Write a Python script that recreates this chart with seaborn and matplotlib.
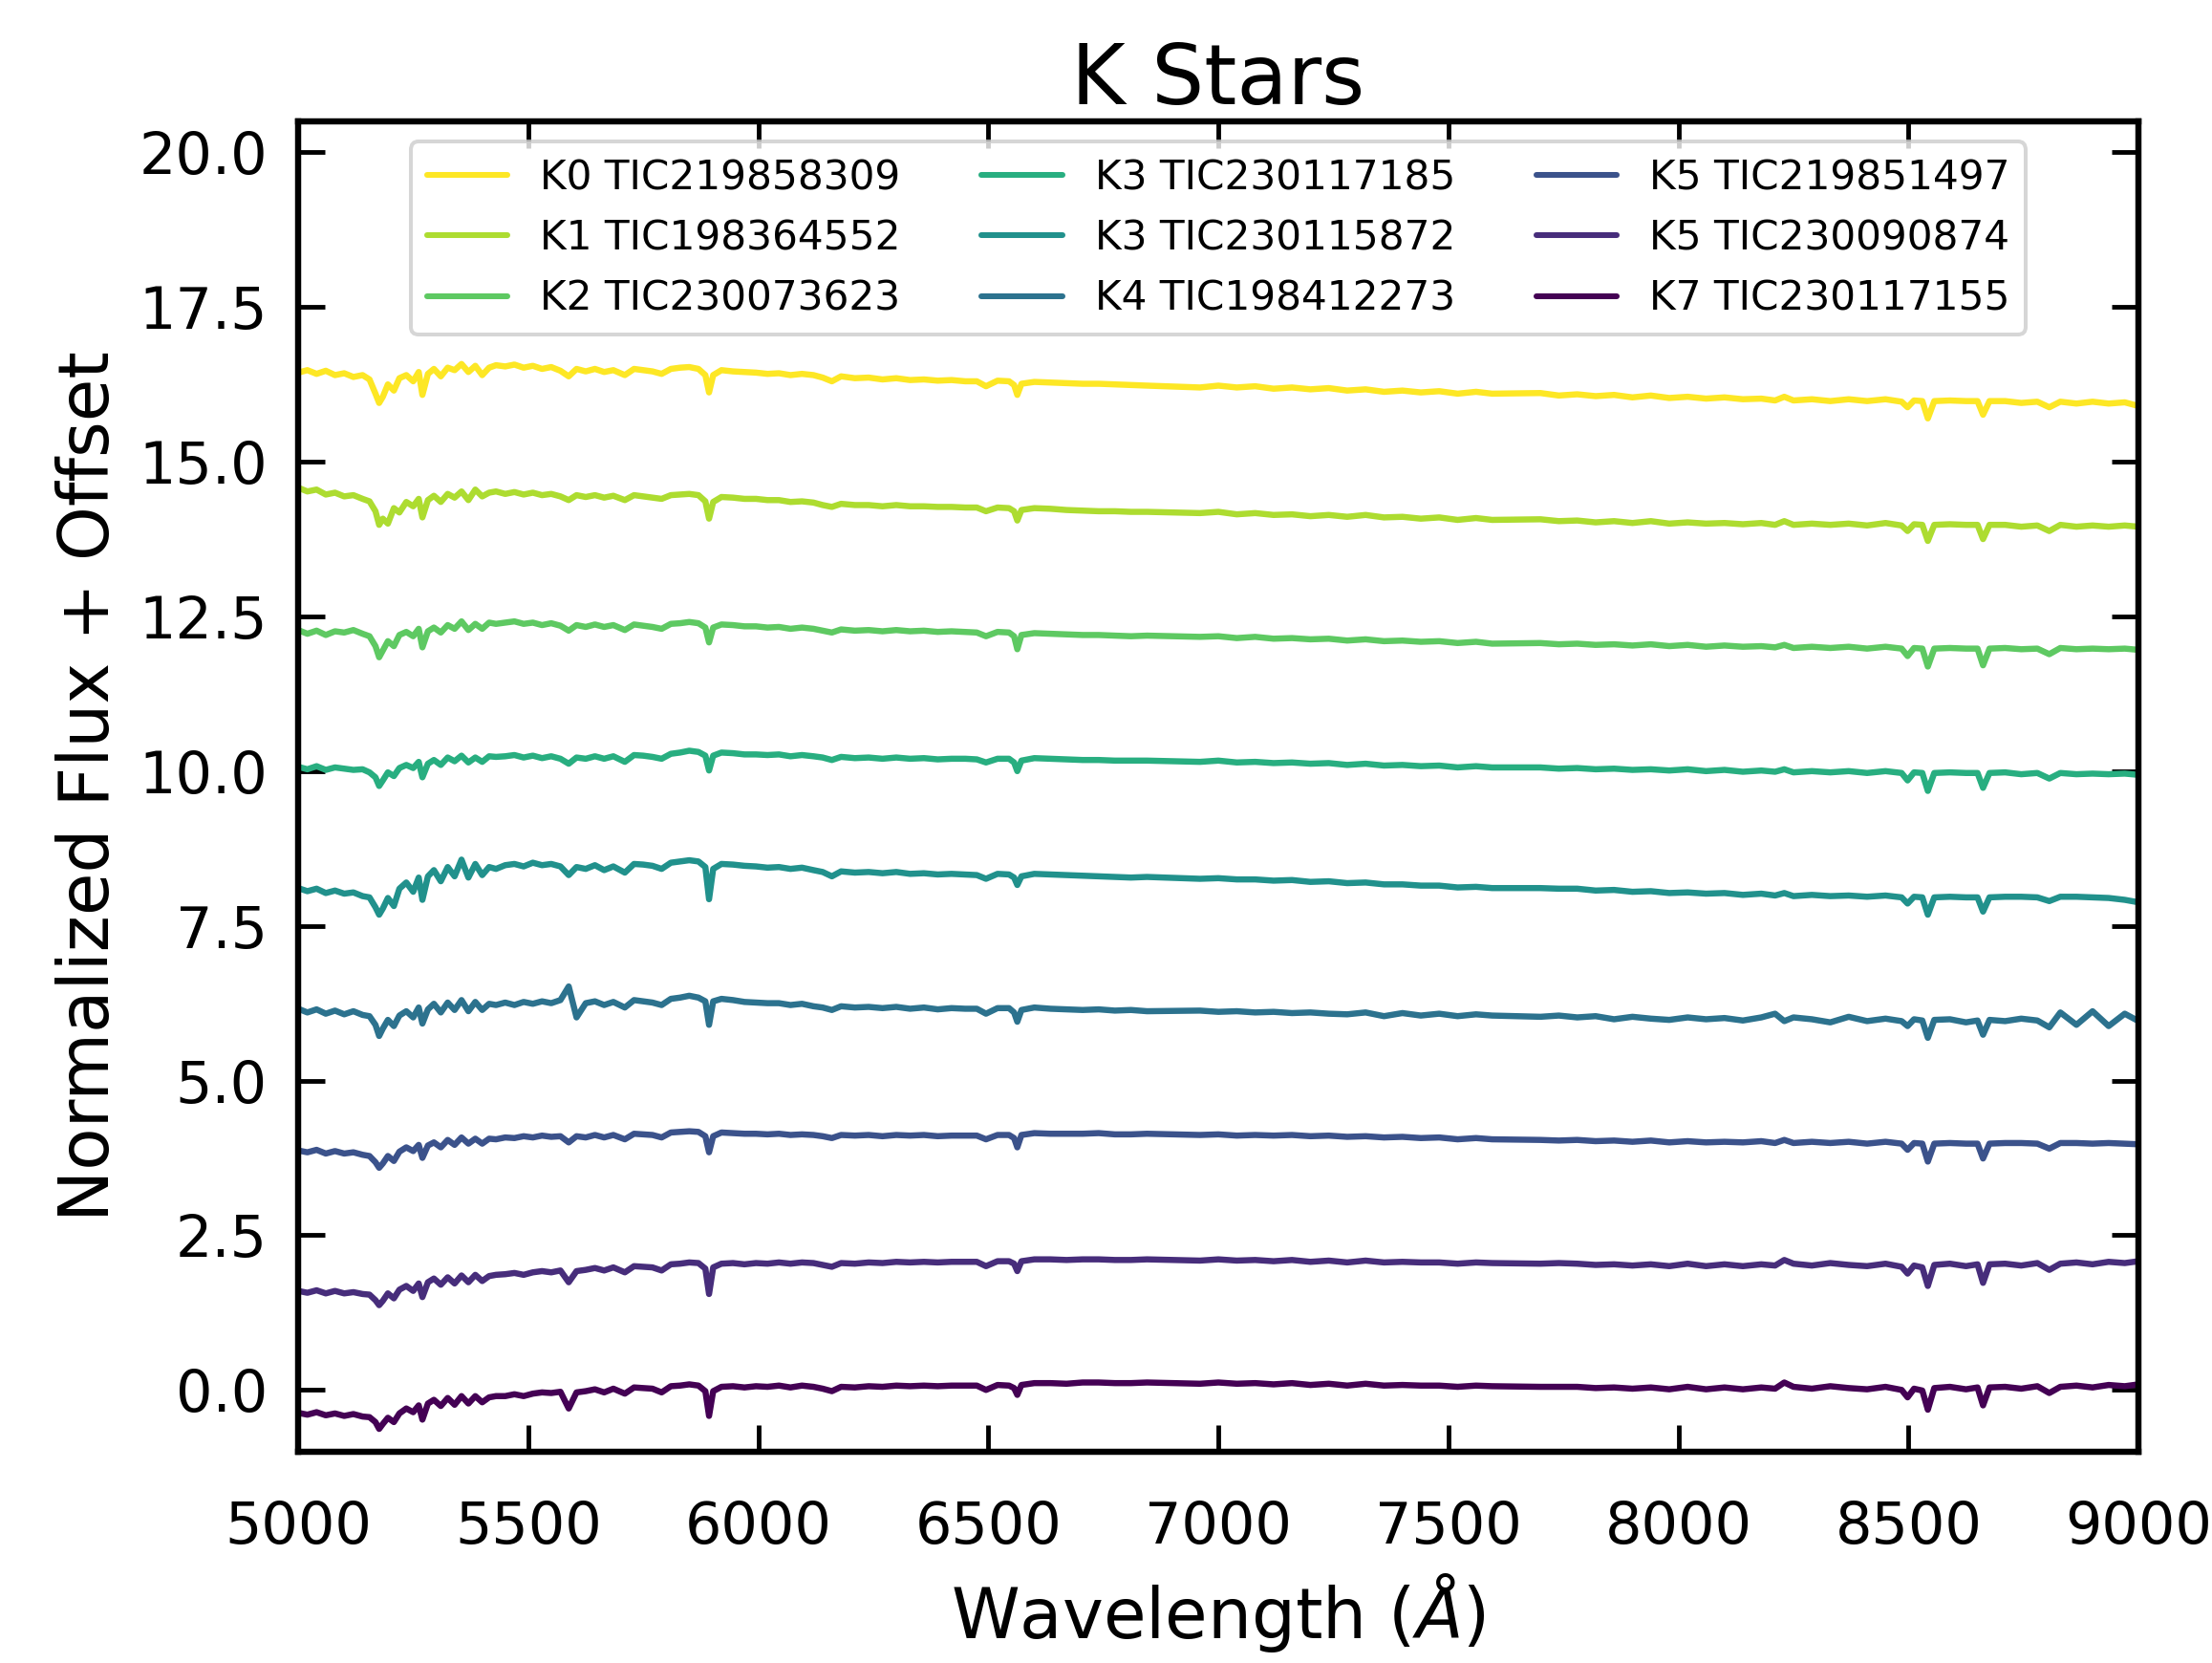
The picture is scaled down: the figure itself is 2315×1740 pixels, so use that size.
import numpy as np
import pandas as pd
import matplotlib
matplotlib.use("Agg")
import matplotlib.pyplot as plt
import seaborn as sns

# ---------------- data ----------------
WAVELENGTH = [
    5000, 5020, 5040, 5060, 5080, 5100, 5120, 5140, 5155, 5168,
    5176, 5184, 5195, 5208, 5220, 5235, 5250, 5262, 5270, 5282,
    5295, 5310, 5325, 5340, 5355, 5370, 5385, 5400, 5415, 5430,
    5450, 5470, 5490, 5510, 5530, 5550, 5570, 5588, 5605, 5625,
    5645, 5665, 5685, 5710, 5730, 5750, 5770, 5790, 5810, 5830,
    5850, 5870, 5885, 5893, 5902, 5920, 5945, 5970, 5995, 6020,
    6045, 6070, 6095, 6120, 6140, 6160, 6180, 6210, 6240, 6270,
    6300, 6330, 6360, 6390, 6420, 6450, 6475, 6495, 6520, 6545,
    6556, 6563, 6572, 6600, 6635, 6670, 6705, 6740, 6775, 6810,
    6845, 6960, 7000, 7040, 7080, 7120, 7160, 7200, 7240, 7280,
    7320, 7360, 7400, 7440, 7480, 7520, 7560, 7595, 7700, 7740,
    7780, 7820, 7860, 7900, 7940, 7980, 8020, 8060, 8100, 8140,
    8180, 8210, 8230, 8250, 8290, 8330, 8370, 8410, 8450, 8485,
    8498, 8512, 8530, 8542, 8556, 8590, 8625, 8650, 8662, 8676,
    8710, 8745, 8780, 8806, 8830, 8865, 8900, 8935, 8970, 9000,
]

LABELS = [
    "K0 TIC219858309", "K1 TIC198364552", "K2 TIC230073623",
    "K3 TIC230117185", "K3 TIC230115872", "K4 TIC198412273",
    "K5 TIC219851497", "K5 TIC230090874", "K7 TIC230117155",
]

FLUX_K0 = [
    16.44, 16.48, 16.42, 16.47, 16.40, 16.43, 16.37, 16.40, 16.33, 16.10,
    15.95, 16.05, 16.25, 16.15, 16.35, 16.40, 16.30, 16.45, 16.08, 16.42,
    16.50, 16.38, 16.52, 16.48, 16.58, 16.45, 16.55, 16.40, 16.52, 16.56,
    16.54, 16.57, 16.52, 16.55, 16.50, 16.53, 16.47, 16.38, 16.50, 16.46,
    16.50, 16.45, 16.48, 16.40, 16.50, 16.48, 16.46, 16.42, 16.50, 16.52,
    16.53, 16.50, 16.40, 16.12, 16.40, 16.48, 16.46, 16.45, 16.44, 16.42,
    16.43, 16.40, 16.42, 16.40, 16.36, 16.30, 16.38, 16.35, 16.36, 16.33,
    16.35, 16.32, 16.33, 16.31, 16.32, 16.30, 16.30, 16.22, 16.31, 16.30,
    16.24, 16.08, 16.26, 16.29, 16.28, 16.27, 16.26, 16.26, 16.25, 16.24,
    16.23, 16.20, 16.23, 16.20, 16.22, 16.18, 16.20, 16.17, 16.19, 16.15,
    16.17, 16.13, 16.15, 16.12, 16.14, 16.10, 16.13, 16.10, 16.11, 16.07,
    16.09, 16.06, 16.08, 16.04, 16.07, 16.03, 16.05, 16.02, 16.04, 16.01,
    16.02, 15.99, 16.05, 15.99, 16.01, 15.98, 16.01, 15.98, 16.01, 15.97,
    15.88, 15.99, 15.98, 15.70, 15.98, 15.99, 15.98, 15.98, 15.76, 15.98,
    15.98, 15.95, 15.97, 15.88, 15.97, 15.94, 15.97, 15.94, 15.96, 15.90,
]

FLUX_K1 = [
    14.58, 14.52, 14.55, 14.47, 14.50, 14.44, 14.46, 14.40, 14.36, 14.20,
    13.98, 14.08, 14.00, 14.25, 14.18, 14.35, 14.28, 14.40, 14.10, 14.38,
    14.45, 14.35, 14.48, 14.42, 14.52, 14.38, 14.55, 14.44, 14.50, 14.52,
    14.48, 14.51, 14.47, 14.50, 14.46, 14.48, 14.44, 14.38, 14.46, 14.43,
    14.46, 14.42, 14.45, 14.38, 14.46, 14.44, 14.42, 14.40, 14.46, 14.47,
    14.48, 14.46, 14.36, 14.08, 14.35, 14.43, 14.42, 14.40, 14.40, 14.38,
    14.38, 14.35, 14.36, 14.34, 14.30, 14.27, 14.32, 14.30, 14.30, 14.28,
    14.30, 14.28, 14.28, 14.27, 14.27, 14.26, 14.26, 14.20, 14.26, 14.25,
    14.20, 14.05, 14.22, 14.25, 14.24, 14.22, 14.21, 14.20, 14.20, 14.19,
    14.19, 14.17, 14.19, 14.15, 14.17, 14.14, 14.15, 14.12, 14.14, 14.11,
    14.14, 14.10, 14.11, 14.08, 14.10, 14.06, 14.09, 14.06, 14.07, 14.04,
    14.05, 14.02, 14.04, 14.01, 14.04, 14.00, 14.02, 14.00, 14.01, 13.99,
    14.01, 13.98, 14.04, 13.98, 14.00, 13.98, 14.00, 13.97, 14.01, 13.97,
    13.88, 13.99, 13.98, 13.72, 13.98, 13.99, 13.98, 13.98, 13.75, 13.98,
    13.98, 13.95, 13.97, 13.88, 13.98, 13.95, 13.97, 13.95, 13.97, 13.95,
]

FLUX_K2 = [
    12.28, 12.22, 12.27, 12.20, 12.26, 12.24, 12.28, 12.22, 12.18, 12.02,
    11.84, 11.95, 12.10, 12.02, 12.20, 12.25, 12.18, 12.30, 12.00, 12.26,
    12.32, 12.24, 12.36, 12.30, 12.42, 12.28, 12.38, 12.30, 12.40, 12.38,
    12.40, 12.42, 12.38, 12.40, 12.36, 12.39, 12.35, 12.27, 12.36, 12.33,
    12.37, 12.33, 12.36, 12.28, 12.37, 12.35, 12.33, 12.30, 12.38, 12.39,
    12.41, 12.39, 12.32, 12.08, 12.32, 12.37, 12.36, 12.34, 12.34, 12.32,
    12.33, 12.30, 12.32, 12.30, 12.27, 12.24, 12.29, 12.27, 12.28, 12.26,
    12.28, 12.26, 12.27, 12.25, 12.26, 12.25, 12.24, 12.18, 12.25, 12.24,
    12.18, 11.97, 12.20, 12.23, 12.22, 12.21, 12.20, 12.20, 12.19, 12.18,
    12.19, 12.17, 12.18, 12.15, 12.17, 12.14, 12.15, 12.13, 12.14, 12.11,
    12.13, 12.10, 12.11, 12.09, 12.10, 12.07, 12.09, 12.06, 12.07, 12.05,
    12.06, 12.04, 12.05, 12.03, 12.05, 12.02, 12.04, 12.01, 12.03, 12.01,
    12.02, 12.00, 12.04, 11.99, 12.01, 11.99, 12.01, 11.98, 12.01, 11.98,
    11.86, 11.99, 11.98, 11.69, 11.98, 11.99, 11.98, 11.98, 11.71, 11.98,
    11.99, 11.97, 11.98, 11.89, 11.99, 11.97, 11.98, 11.97, 11.98, 11.96,
]

FLUX_K3A = [
    10.07, 10.03, 10.08, 10.02, 10.06, 10.04, 10.02, 10.03, 9.98, 9.90,
    9.76, 9.85, 9.98, 9.92, 10.05, 10.10, 10.05, 10.15, 9.90, 10.12,
    10.18, 10.10, 10.22, 10.16, 10.25, 10.14, 10.22, 10.15, 10.24, 10.23,
    10.24, 10.26, 10.22, 10.25, 10.21, 10.24, 10.20, 10.12, 10.22, 10.20,
    10.24, 10.20, 10.24, 10.15, 10.26, 10.25, 10.23, 10.20, 10.28, 10.30,
    10.33, 10.31, 10.25, 10.01, 10.25, 10.30, 10.29, 10.27, 10.27, 10.26,
    10.27, 10.24, 10.26, 10.24, 10.22, 10.18, 10.23, 10.21, 10.22, 10.20,
    10.22, 10.20, 10.21, 10.19, 10.20, 10.20, 10.19, 10.14, 10.20, 10.20,
    10.14, 10.00, 10.17, 10.21, 10.20, 10.19, 10.18, 10.18, 10.17, 10.17,
    10.17, 10.15, 10.17, 10.14, 10.15, 10.13, 10.14, 10.12, 10.13, 10.10,
    10.12, 10.09, 10.10, 10.08, 10.09, 10.06, 10.08, 10.06, 10.06, 10.04,
    10.05, 10.03, 10.04, 10.02, 10.03, 10.01, 10.03, 10.00, 10.02, 9.99,
    10.01, 9.99, 10.03, 9.98, 10.00, 9.98, 10.00, 9.97, 10.00, 9.97,
    9.85, 9.98, 9.97, 9.68, 9.97, 9.98, 9.97, 9.97, 9.73, 9.97,
    9.98, 9.95, 9.97, 9.88, 9.97, 9.95, 9.96, 9.95, 9.96, 9.94,
]

FLUX_K3B = [
    8.11, 8.06, 8.10, 8.03, 8.07, 8.02, 8.04, 7.98, 7.96, 7.80,
    7.68, 7.78, 7.95, 7.82, 8.10, 8.20, 8.05, 8.28, 7.92, 8.30,
    8.40, 8.22, 8.45, 8.30, 8.57, 8.28, 8.50, 8.32, 8.45, 8.42,
    8.48, 8.50, 8.46, 8.52, 8.48, 8.50, 8.46, 8.32, 8.45, 8.42,
    8.48, 8.40, 8.46, 8.36, 8.50, 8.49, 8.47, 8.42, 8.52, 8.54,
    8.56, 8.54, 8.45, 7.93, 8.42, 8.50, 8.49, 8.47, 8.46, 8.44,
    8.45, 8.42, 8.44, 8.40, 8.37, 8.30, 8.38, 8.36, 8.37, 8.35,
    8.37, 8.34, 8.35, 8.33, 8.34, 8.33, 8.32, 8.26, 8.34, 8.33,
    8.28, 8.16, 8.30, 8.34, 8.33, 8.32, 8.31, 8.30, 8.29, 8.28,
    8.29, 8.26, 8.27, 8.25, 8.25, 8.23, 8.24, 8.21, 8.22, 8.19,
    8.20, 8.17, 8.17, 8.15, 8.15, 8.12, 8.13, 8.11, 8.11, 8.10,
    8.10, 8.07, 8.08, 8.05, 8.06, 8.03, 8.04, 8.02, 8.03, 8.00,
    8.02, 7.99, 8.03, 7.98, 8.00, 7.98, 7.99, 7.97, 7.99, 7.96,
    7.86, 7.97, 7.96, 7.68, 7.96, 7.97, 7.96, 7.96, 7.73, 7.96,
    7.97, 7.97, 7.96, 7.90, 7.97, 7.97, 7.96, 7.95, 7.92, 7.88,
]

FLUX_K4 = [
    6.16, 6.10, 6.15, 6.08, 6.13, 6.07, 6.12, 6.06, 6.04, 5.90,
    5.72, 5.84, 5.98, 5.88, 6.05, 6.12, 6.02, 6.18, 5.92, 6.15,
    6.24, 6.10, 6.26, 6.14, 6.30, 6.12, 6.27, 6.14, 6.24, 6.22,
    6.26, 6.22, 6.27, 6.24, 6.28, 6.25, 6.30, 6.52, 6.02, 6.25,
    6.28, 6.22, 6.27, 6.18, 6.30, 6.28, 6.26, 6.22, 6.32, 6.34,
    6.37, 6.34, 6.28, 5.90, 6.28, 6.32, 6.30, 6.27, 6.26, 6.25,
    6.25, 6.22, 6.24, 6.20, 6.18, 6.14, 6.20, 6.18, 6.19, 6.17,
    6.19, 6.16, 6.18, 6.15, 6.17, 6.16, 6.16, 6.08, 6.17, 6.17,
    6.10, 5.95, 6.14, 6.18, 6.16, 6.15, 6.14, 6.15, 6.13, 6.14,
    6.12, 6.13, 6.11, 6.12, 6.10, 6.11, 6.09, 6.10, 6.08, 6.07,
    6.10, 6.04, 6.09, 6.05, 6.08, 6.04, 6.07, 6.05, 6.03, 6.05,
    6.02, 6.04, 5.99, 6.03, 6.00, 5.98, 6.02, 5.99, 6.01, 5.97,
    6.02, 6.08, 5.96, 6.02, 5.99, 5.94, 6.03, 5.96, 6.00, 5.96,
    5.88, 5.99, 5.97, 5.69, 5.98, 5.99, 5.94, 5.97, 5.74, 5.98,
    5.96, 6.00, 5.97, 5.86, 6.10, 5.90, 6.12, 5.88, 6.08, 5.96,
]

FLUX_K5A = [
    3.87, 3.84, 3.88, 3.82, 3.86, 3.82, 3.84, 3.80, 3.78, 3.68,
    3.59, 3.66, 3.78, 3.70, 3.85, 3.92, 3.86, 3.96, 3.75, 3.95,
    4.00, 3.92, 4.04, 3.96, 4.08, 3.98, 4.06, 3.98, 4.06, 4.05,
    4.08, 4.07, 4.10, 4.08, 4.11, 4.09, 4.10, 4.00, 4.10, 4.08,
    4.12, 4.08, 4.12, 4.05, 4.14, 4.13, 4.12, 4.08, 4.16, 4.17,
    4.18, 4.17, 4.10, 3.84, 4.10, 4.16, 4.15, 4.14, 4.14, 4.13,
    4.14, 4.12, 4.13, 4.12, 4.10, 4.07, 4.12, 4.11, 4.12, 4.10,
    4.12, 4.11, 4.12, 4.10, 4.11, 4.11, 4.11, 4.05, 4.12, 4.12,
    4.07, 3.92, 4.12, 4.15, 4.14, 4.14, 4.14, 4.15, 4.13, 4.13,
    4.14, 4.12, 4.13, 4.11, 4.12, 4.11, 4.12, 4.10, 4.11, 4.09,
    4.10, 4.08, 4.09, 4.07, 4.08, 4.05, 4.07, 4.05, 4.04, 4.03,
    4.04, 4.02, 4.03, 4.01, 4.03, 4.00, 4.02, 4.00, 4.01, 4.00,
    4.02, 3.99, 4.04, 3.99, 4.01, 3.99, 4.01, 3.98, 4.01, 3.98,
    3.88, 3.99, 3.98, 3.69, 3.98, 3.99, 3.98, 3.98, 3.74, 3.98,
    3.99, 3.99, 3.98, 3.90, 3.99, 3.99, 3.98, 3.99, 3.98, 3.97,
]

FLUX_K5B = [
    1.60, 1.57, 1.61, 1.56, 1.60, 1.56, 1.58, 1.55, 1.54, 1.45,
    1.37, 1.44, 1.56, 1.48, 1.62, 1.68, 1.60, 1.72, 1.50, 1.74,
    1.80, 1.70, 1.82, 1.72, 1.85, 1.74, 1.86, 1.76, 1.84, 1.86,
    1.87, 1.89, 1.86, 1.90, 1.92, 1.90, 1.93, 1.74, 1.92, 1.94,
    1.97, 1.93, 1.98, 1.90, 2.00, 1.99, 1.98, 1.93, 2.03, 2.04,
    2.06, 2.05, 1.96, 1.55, 1.98, 2.04, 2.05, 2.03, 2.05, 2.04,
    2.06, 2.04, 2.06, 2.05, 2.02, 1.99, 2.05, 2.04, 2.06, 2.05,
    2.07, 2.06, 2.07, 2.06, 2.07, 2.07, 2.07, 2.00, 2.08, 2.08,
    2.04, 1.92, 2.08, 2.11, 2.11, 2.10, 2.11, 2.11, 2.10, 2.10,
    2.11, 2.09, 2.11, 2.09, 2.10, 2.08, 2.10, 2.07, 2.09, 2.06,
    2.09, 2.06, 2.07, 2.06, 2.06, 2.04, 2.06, 2.05, 2.04, 2.05,
    2.04, 2.02, 2.03, 2.01, 2.03, 2.00, 2.04, 2.00, 2.03, 2.00,
    2.03, 2.01, 2.10, 2.04, 2.01, 2.05, 2.02, 2.00, 2.04, 1.99,
    1.88, 2.01, 1.98, 1.68, 2.02, 2.04, 2.00, 2.03, 1.73, 2.03,
    2.04, 2.01, 2.05, 1.94, 2.04, 2.06, 2.03, 2.07, 2.05, 2.08,
]

FLUX_K7 = [
    -0.37, -0.40, -0.36, -0.41, -0.38, -0.42, -0.39, -0.43, -0.44, -0.52,
    -0.63, -0.55, -0.45, -0.52, -0.38, -0.30, -0.36, -0.25, -0.48, -0.22,
    -0.16, -0.26, -0.13, -0.24, -0.10, -0.22, -0.10, -0.20, -0.12, -0.10,
    -0.10, -0.07, -0.10, -0.06, -0.04, -0.05, -0.03, -0.30, -0.04, -0.02,
    0.01, -0.04, 0.02, -0.06, 0.04, 0.03, 0.02, -0.04, 0.06, 0.07,
    0.09, 0.07, -0.02, -0.42, -0.02, 0.05, 0.06, 0.04, 0.06, 0.05,
    0.07, 0.04, 0.07, 0.05, 0.02, -0.02, 0.05, 0.04, 0.06, 0.05,
    0.07, 0.06, 0.07, 0.06, 0.07, 0.07, 0.07, 0.00, 0.08, 0.07,
    0.03, -0.08, 0.08, 0.11, 0.11, 0.10, 0.12, 0.12, 0.11, 0.11,
    0.12, 0.10, 0.12, 0.10, 0.11, 0.09, 0.11, 0.08, 0.10, 0.07,
    0.10, 0.07, 0.08, 0.07, 0.07, 0.05, 0.07, 0.06, 0.05, 0.05,
    0.05, 0.03, 0.04, 0.02, 0.04, 0.01, 0.05, 0.01, 0.04, 0.01,
    0.04, 0.02, 0.12, 0.05, 0.02, 0.06, 0.03, 0.01, 0.05, 0.00,
    -0.12, 0.02, -0.01, -0.32, 0.03, 0.05, 0.01, 0.04, -0.25, 0.04,
    0.05, 0.02, 0.06, -0.05, 0.05, 0.07, 0.04, 0.08, 0.06, 0.09,
]

FLUXES = [FLUX_K0, FLUX_K1, FLUX_K2, FLUX_K3A, FLUX_K3B,
          FLUX_K4, FLUX_K5A, FLUX_K5B, FLUX_K7]

for f in FLUXES:
    assert len(f) == len(WAVELENGTH), len(f)

df = pd.concat(
    [pd.DataFrame({"wavelength": WAVELENGTH, "flux": f, "star": lab})
     for f, lab in zip(FLUXES, LABELS)],
    ignore_index=True,
)

# ---------------- style ----------------
sns.set_style("ticks")
plt.rcParams["font.family"] = ["DejaVu Sans"]
plt.rcParams["mathtext.fontset"] = "dejavusans"
plt.rcParams["text.color"] = "black"
plt.rcParams["axes.labelcolor"] = "black"
plt.rcParams["xtick.color"] = "black"
plt.rcParams["ytick.color"] = "black"

colors = [matplotlib.colormaps["viridis"](v) for v in np.linspace(1, 0, 9)]

fig = plt.figure(figsize=(2315 / 290, 1740 / 290), dpi=290)
ax = fig.add_axes([0.1348, 0.127, 0.9668 - 0.1348, 0.927 - 0.127])

sns.lineplot(data=df, x="wavelength", y="flux", hue="star",
             hue_order=LABELS, palette=colors, estimator=None,
             sort=False, linewidth=1.6, ax=ax)

ax.set_xlim(5000, 9000)
ax.set_ylim(-1.0, 20.5)
ax.set_xticks([5000, 5500, 6000, 6500, 7000, 7500, 8000, 8500, 9000])
ax.set_yticks([0, 2.5, 5, 7.5, 10, 12.5, 15, 17.5, 20])

for s in ax.spines.values():
    s.set_visible(True)
    s.set_linewidth(1.6)
    s.set_color("black")

ax.tick_params(direction="in", top=True, right=True, length=7, width=1.2,
               labelsize=15, colors="black", labelcolor="black")
ax.tick_params(axis="x", pad=12.5)
ax.tick_params(axis="y", pad=8)

ax.set_xlabel(r"Wavelength ($\AA$)", fontsize=18, color="black")
ax.set_ylabel("Normalized Flux + Offset", fontsize=18, color="black")
ax.set_title("K Stars", fontsize=21.5, pad=4.5, color="black")

handles, labels = ax.get_legend_handles_labels()
for h in handles:
    h.set_linewidth(1.5)
leg = ax.legend(handles, labels, loc="upper center", ncol=3, fontsize=10.5,
                frameon=True, framealpha=0.8, edgecolor="0.8")
for t in leg.get_texts():
    t.set_color("black")

fig.savefig("out.png", dpi=290)
